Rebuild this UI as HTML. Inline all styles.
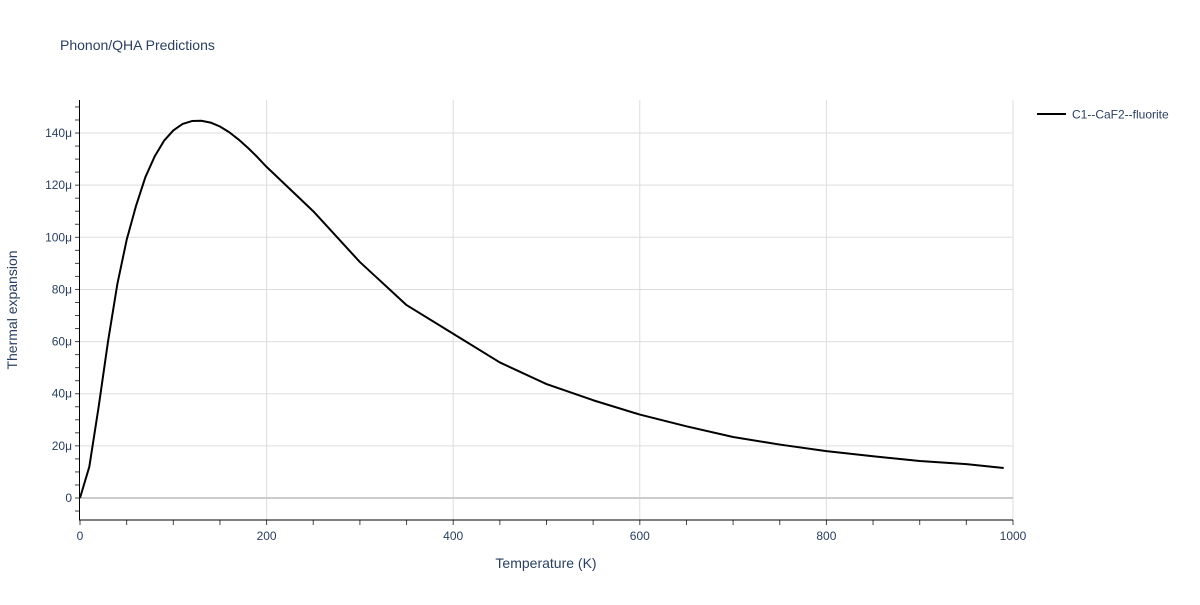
<!DOCTYPE html>
<html><head><meta charset="utf-8"><style>
body{margin:0;background:#fff;font-family:"Liberation Sans",sans-serif;}
svg text{font-family:"Liberation Sans",sans-serif;fill:#2a3f5f;}
</style></head><body>
<svg id="chart" width="1200" height="600" xmlns="http://www.w3.org/2000/svg">
<rect width="1200" height="600" fill="#fff"/>
<text x="60" y="50" font-size="14">Phonon/QHA Predictions</text>
<g id="grid"></g><g id="axes"></g><g id="series"></g>
<text x="546" y="568" font-size="14" text-anchor="middle">Temperature (K)</text>
<text transform="translate(17,310) rotate(-90)" font-size="14" text-anchor="middle">Thermal expansion</text>
<g>
<line x1="1037" y1="114" x2="1066" y2="114" stroke="#000" stroke-width="2"/>
<text x="1072" y="118.5" font-size="12">C1--CaF2--fluorite</text>
</g>
</svg>
<script>
const temps=[0,10,20,30,40,50,60,70,80,90,100,110,120,130,140,150,160,170,180,190,200,250,300,350,400,450,500,550,600,650,700,750,800,850,900,950,990];
const alpha=[0,12,35,60,82,99,112,123,131,137,141,143.5,144.6,144.7,144,142.5,140.3,137.5,134.3,130.8,127,110,90.5,74,63,52,43.7,37.5,32,27.5,23.4,20.5,18,16,14.2,13,11.5];
const xTicks=[0,200,400,600,800,1000];
const yTicks=[0,20,40,60,80,100,120,140];
const yTickLabels=["0","20μ","40μ","60μ","80μ","100μ","120μ","140μ"];
const X=v=>80+v*0.933, Y=v=>498-v*2.607;
const NS="http://www.w3.org/2000/svg";
function mk(p,t,a){const e=document.createElementNS(NS,t);for(const k in a)e.setAttribute(k,a[k]);p.appendChild(e);return e;}
const grid=document.getElementById('grid'),axes=document.getElementById('axes'),ser=document.getElementById('series');
xTicks.forEach(v=>{if(v>0){const l=mk(grid,'line',{x1:X(v),x2:X(v),y1:100,y2:520,stroke:'#ddd','stroke-width':1});

}
const t=mk(axes,'text',{x:X(v),y:540,'font-size':12,'text-anchor':'middle'});t.textContent=v;

});
yTicks.forEach((v,i)=>{const l=mk(grid,'line',{x1:80,x2:1013,y1:Y(v),y2:Y(v),stroke:v===0?'#ccc':'#ddd','stroke-width':v===0?2:1});


const t=mk(axes,'text',{x:72,y:Y(v)+4,'font-size':12,'text-anchor':'end'});t.textContent=yTickLabels[i];

});
for(let v=-5;v<=150;v+=5){mk(axes,'line',{x1:75,x2:80,y1:Y(v),y2:Y(v),stroke:'#444','stroke-width':1});}
for(let v=0;v<=1000;v+=50){mk(axes,'line',{x1:X(v),x2:X(v),y1:520,y2:525,stroke:'#444','stroke-width':1});}
const ya=mk(axes,'line',{x1:79.5,x2:79.5,y1:100,y2:520,stroke:'#000','stroke-width':1});


const xa=mk(axes,'line',{x1:79,x2:1013,y1:520,y2:520,stroke:'#000','stroke-width':1});


const pl=mk(ser,'polyline',{points:temps.map((t,i)=>X(t)+','+Y(alpha[i])).join(' '),fill:'none',stroke:'#000','stroke-width':2,'stroke-linejoin':'round'});


</script>
</body></html>
